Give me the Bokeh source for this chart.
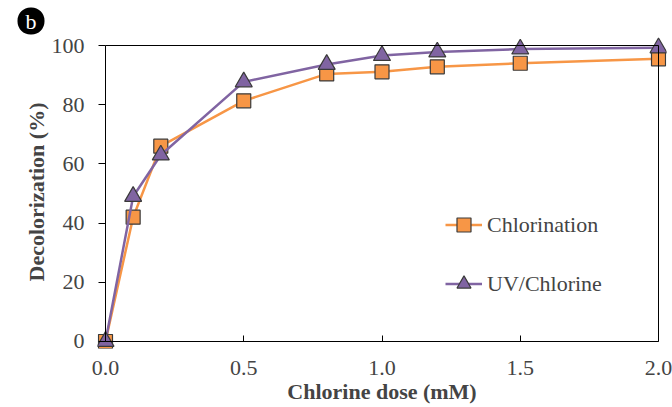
from bokeh.plotting import figure
from bokeh.models import (Range1d, LinearAxis, FixedTicker, PrintfTickFormatter,
                          Legend, LegendItem, Title)
from bokeh.embed import file_html
from bokeh.resources import INLINE

# ---- data ----
dose = [0, 0.1, 0.2, 0.5, 0.8, 1.0, 1.2, 1.5, 2.0]
chlorination = [0, 42, 66, 81.3, 90.4, 91.1, 92.8, 94.0, 95.5]
uv_chlorine = [0, 49, 63, 87.7, 93.6, 96.6, 97.8, 98.8, 99.2]
x_ticks = [0, 0.5, 1.0, 1.5, 2.0]
y_ticks = [0, 20, 40, 60, 80, 100]

FONT = "Liberation Serif"
ORANGE = "#F79646"
PURPLE = "#8064A2"
EDGE = "#3a3a3a"

badge = Title(text="b", align="left", offset=-80, standoff=0,
              vertical_align="middle", text_color="white", text_font=FONT,
              text_font_size="22px", text_font_style="normal",
              background_fill_color="black", border_radius=13,
              padding=dict(left=8, right=8, top=1, bottom=1))

p = figure(width=672, height=407, output_backend="svg", toolbar_location=None,
           title=badge,
           x_range=Range1d(-0.0289, 2.0289), y_range=Range1d(-2.37, 103.38),
           min_border_left=97, min_border_right=6, min_border_top=35,
           min_border_bottom=59, x_axis_type=None, y_axis_type=None)
p.outline_line_color = None
p.grid.visible = False
p.background_fill_color = "white"
p.border_fill_color = "white"

# bottom labels (axis at frame edge, line hidden)
xa = LinearAxis(ticker=FixedTicker(ticks=x_ticks),
                formatter=PrintfTickFormatter(format="%.1f"))
xa.axis_label = "Chlorine dose (mM)"
xa.axis_label_text_font = FONT
xa.axis_label_text_font_style = "bold"
xa.axis_label_text_font_size = "22px"
xa.axis_label_standoff = 1
xa.major_label_text_font = FONT
xa.major_label_text_font_size = "22px"
xa.major_label_standoff = 12
xa.major_tick_in = 0
xa.major_tick_out = 0
xa.axis_line_color = None
xa.major_tick_line_color = None
xa.minor_tick_line_color = None
p.add_layout(xa, "below")

# left labels
ya = LinearAxis(ticker=FixedTicker(ticks=y_ticks))
ya.axis_label = "Decolorization (%)"
ya.axis_label_text_font = FONT
ya.axis_label_text_font_style = "bold"
ya.axis_label_text_font_size = "22px"
ya.axis_label_standoff = 0
ya.major_label_text_font = FONT
ya.major_label_text_font_size = "22px"
ya.major_label_standoff = 13
ya.major_tick_in = 0
ya.major_tick_out = 0
ya.axis_line_color = None
ya.major_tick_line_color = None
ya.minor_tick_line_color = None
p.add_layout(ya, "left")


def frame_axis(ticks, loc, bounds, tick_in=0, tick_out=0):
    ax = LinearAxis(ticker=FixedTicker(ticks=ticks), fixed_location=loc,
                    bounds=bounds)
    ax.major_label_text_font_size = "0px"
    ax.major_label_text_color = None
    ax.major_label_standoff = 0
    ax.major_tick_in = tick_in
    ax.major_tick_out = tick_out
    ax.minor_tick_line_color = None
    ax.axis_line_color = "black"
    ax.major_tick_line_color = "black"
    return ax


# x-axis line at y=0 with upward ticks; top line at y=100
p.add_layout(frame_axis(x_ticks, 0, (0, 2), tick_out=6), "above")
p.add_layout(frame_axis([], 100, (0, 2)), "above")
# y-axis line at x=0 with leftward ticks; right line at x=2
p.add_layout(frame_axis(y_ticks, 0, (0, 100), tick_in=7), "right")
p.add_layout(frame_axis([], 2, (0, 100)), "right")

# series
l1 = p.line(dose, chlorination, line_color=ORANGE, line_width=2.5)
s1 = p.scatter(dose, chlorination, marker="square", size=14, fill_color=ORANGE,
               line_color=EDGE, line_width=1.2)
l2 = p.line(dose, uv_chlorine, line_color=PURPLE, line_width=2.5)
s2 = p.scatter(dose, uv_chlorine, marker="triangle", size=17, fill_color=PURPLE,
               line_color=EDGE, line_width=1.2)

legend = Legend(items=[LegendItem(label="Chlorination", renderers=[l1, s1]),
                       LegendItem(label="UV/Chlorine", renderers=[l2, s2])],
                location=(348, 47), glyph_width=37, glyph_height=35, spacing=24,
                label_standoff=5, padding=0, margin=0,
                border_line_color=None, background_fill_alpha=0,
                label_text_font=FONT, label_text_font_size="22px")
p.add_layout(legend)

open("out.html", "w").write(file_html(p, INLINE))
